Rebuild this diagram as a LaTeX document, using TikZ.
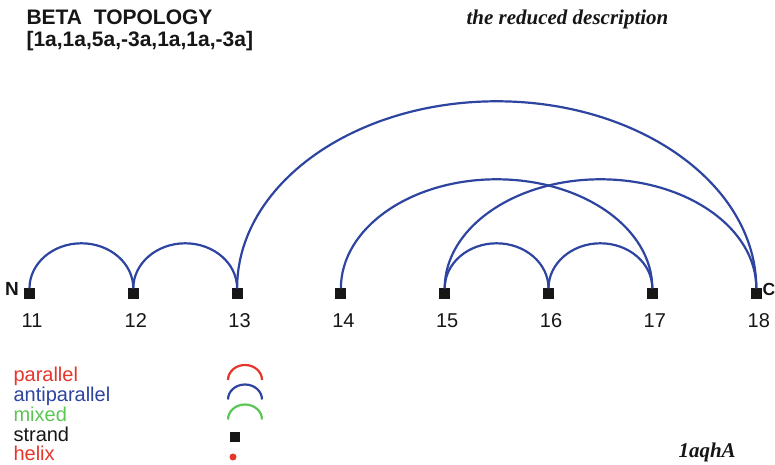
\documentclass[tikz,border=0pt]{standalone}
\usepackage{fontspec}
\setmainfont{Liberation Sans}
\newfontfamily\serifbi{Liberation Serif}
\usetikzlibrary{positioning}
\definecolor{antiblue}{HTML}{2D44A0}
\definecolor{parared}{HTML}{E5362B}
\definecolor{mixgreen}{HTML}{5CC653}
\definecolor{strandblack}{HTML}{161616}
\begin{document}
\begin{tikzpicture}[x=1pt,y=1pt,
  strand/.style={fill=strandblack,minimum size=11pt,inner sep=0pt},
  anti/.style={draw=antiblue,line width=2.2pt},
  num/.style={font=\fontsize{20}{20}\selectfont,text=strandblack,anchor=base},
  termlabel/.style={font=\fontsize{19}{19}\selectfont\bfseries,text=strandblack},
  legend/.style={font=\fontsize{20}{20}\selectfont,anchor=base west},
  title/.style={font=\fontsize{21}{21}\selectfont\bfseries,text=strandblack,anchor=base west},
  note/.style={font=\fontsize{21}{21}\selectfont\serifbi\bfseries\itshape,text=strandblack,anchor=base west}
]
\useasboundingbox (0,0) rectangle (775,465);
\node[title] (head) at (23,440) {BETA\ \ TOPOLOGY};
\node[title] (code) at (23,418) {[1a,1a,5a,-3a,1a,1a,-3a]};
\node[note] (desc) at (463,440) {the reduced description};
\node[note] (pdb) at (675,8) {1aqhA};
\foreach \i/\x in {11/29.5,12/133.3,13/237.1,14/340.9,15/444.7,16/548.5,17/652.3,18/756.3} {
  \node[strand] (n\i) at (\x,171) {};
  \node[num] (l\i) at (\x+2.5,137) {\i};
}
\node[termlabel,anchor=base east] (nterm) at (22.5,169) {N};
\node[termlabel,anchor=base west,font=\fontsize{17.5}{17.5}\selectfont\bfseries,inner sep=1pt] (cterm) at (761.5,169) {C};
\draw[anti] (n11.north) arc[start angle=180,end angle=0,x radius=51.9,y radius=45];
\draw[anti] (n12.north) arc[start angle=180,end angle=0,x radius=51.9,y radius=45];
\draw[anti] (n13.north) arc[start angle=180,end angle=0,x radius=259.6,y radius=187];
\draw[anti] (n14.north) arc[start angle=180,end angle=0,x radius=155.7,y radius=109];
\draw[anti] (n15.north) arc[start angle=180,end angle=0,x radius=155.8,y radius=109];
\draw[anti] (n15.north) arc[start angle=180,end angle=0,x radius=51.9,y radius=45];
\draw[anti] (n16.north) arc[start angle=180,end angle=0,x radius=51.9,y radius=45];
\node[legend,text=parared] (lpar) at (10,83.3) {parallel};
\node[legend,text=antiblue] (lanti) at (10,63.5) {antiparallel};
\node[legend,text=mixgreen] (lmix) at (10,43.7) {mixed};
\node[legend,text=strandblack] (lstr) at (10,23.9) {strand};
\node[legend,text=parared] (lhel) at (10,4.1) {helix};
\draw[anti,draw=parared] (228,85) arc[start angle=180,end angle=0,x radius=17,y radius=15];
\draw[anti] (228,65.5) arc[start angle=180,end angle=0,x radius=17,y radius=15];
\draw[anti,draw=mixgreen] (228,45.5) arc[start angle=180,end angle=0,x radius=17,y radius=15];
\node[strand,minimum size=10pt] (kstr) at (234.5,27.5) {};
\node[circle,fill=parared,minimum size=7pt,inner sep=0pt] (khel) at (233,8) {};
\end{tikzpicture}
\end{document}
